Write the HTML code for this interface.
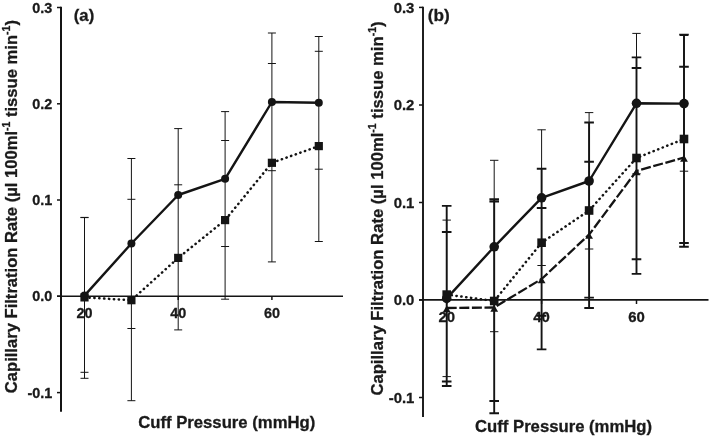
<!DOCTYPE html><html><head><meta charset="utf-8"><title>Capillary Filtration Rate</title>
<style>html,body{margin:0;padding:0;background:#fff}svg{display:block}text{font-family:"Liberation Sans",sans-serif;font-weight:bold;fill:#1a1a1a;stroke:#1a1a1a;stroke-width:0.3px}</style></head><body>
<svg width="709" height="439" viewBox="0 0 709 439">
<rect width="709" height="439" fill="#fff"/>
<path d="M61.0 6.8V411.8" stroke="#141414" stroke-width="2" fill="none"/>
<path d="M57 296.2H343" stroke="#141414" stroke-width="1.5" fill="none"/>
<path d="M57 7.5H61.0" stroke="#141414" stroke-width="1.5"/>
<text x="52.3" y="12.7" font-size="14.4" text-anchor="end">0.3</text>
<path d="M57 103.8H61.0" stroke="#141414" stroke-width="1.5"/>
<text x="52.3" y="109" font-size="14.4" text-anchor="end">0.2</text>
<path d="M57 200H61.0" stroke="#141414" stroke-width="1.5"/>
<text x="52.3" y="205.2" font-size="14.4" text-anchor="end">0.1</text>
<path d="M57 296.2H61.0" stroke="#141414" stroke-width="1.5"/>
<text x="52.3" y="301.4" font-size="14.4" text-anchor="end">0.0</text>
<path d="M57 392.6H61.0" stroke="#141414" stroke-width="1.5"/>
<text x="52.3" y="397.8" font-size="14.4" text-anchor="end">-0.1</text>
<path d="M84.5 296.2V300" stroke="#141414" stroke-width="1.5"/>
<text x="84.5" y="318.4" font-size="14.4" text-anchor="middle">20</text>
<path d="M178.2 296.2V300" stroke="#141414" stroke-width="1.5"/>
<text x="178.2" y="318.4" font-size="14.4" text-anchor="middle">40</text>
<path d="M271.9 296.2V300" stroke="#141414" stroke-width="1.5"/>
<text x="271.9" y="318.4" font-size="14.4" text-anchor="middle">60</text>
<text x="73.8" y="20.6" font-size="16.7">(a)</text>
<text x="138.2" y="427.6" font-size="16.7">Cuff Pressure (mmHg)</text>
<text transform="translate(17.0 393.2) rotate(-90)" font-size="16.6">Capillary Filtration Rate (µl 100ml<tspan font-size="10.5" dy="-7.4">-1</tspan><tspan dy="7.4"> tissue min</tspan><tspan font-size="10.5" dy="-7.4">-1</tspan><tspan dy="7.4">)</tspan></text>
<path d="M84.5 217.4V378.3M80.5 217.6H88.5M80.5 217.4H88.5M80.5 372.3H88.5M80.5 378.3H88.5" stroke="#141414" stroke-width="1.0" fill="none"/>
<path d="M131.4 158.5V400.7M127.4 158.5H135.4M127.4 199.3H135.4M127.4 328.5H135.4M127.4 400.7H135.4" stroke="#141414" stroke-width="1.0" fill="none"/>
<path d="M178.2 128.6V329.9M174.2 128.6H182.2M174.2 184.8H182.2M174.2 261.4H182.2M174.2 329.9H182.2" stroke="#141414" stroke-width="1.0" fill="none"/>
<path d="M225.1 111.6V299.2M221.1 111.6H229.1M221.1 140.5H229.1M221.1 246.5H229.1M221.1 299.2H229.1" stroke="#141414" stroke-width="1.0" fill="none"/>
<path d="M271.9 33V261.9M267.9 33H275.9M267.9 63.5H275.9M267.9 170.7H275.9M267.9 261.9H275.9" stroke="#141414" stroke-width="1.0" fill="none"/>
<path d="M318.8 36.5V241.5M314.8 36.5H322.8M314.8 51.3H322.8M314.8 169.2H322.8M314.8 241.5H322.8" stroke="#141414" stroke-width="1.0" fill="none"/>
<path d="M84.5 295.6 L131.4 243.5 L178.2 195 L225.1 178.8 L271.9 102 L318.8 102.7" stroke="#141414" stroke-width="2.4" fill="none" stroke-linejoin="round"/>
<path d="M84.5 297.4 L131.4 300.2 L178.2 257.9 L225.1 220.1 L271.9 162.8 L318.8 146.1" stroke="#141414" stroke-width="2.5" fill="none" stroke-linejoin="round" stroke-dasharray="0.3 4.6" stroke-linecap="round"/>
<circle cx="84.5" cy="295.6" r="4.0" fill="#141414"/>
<circle cx="131.4" cy="243.5" r="4.0" fill="#141414"/>
<circle cx="178.2" cy="195" r="4.0" fill="#141414"/>
<circle cx="225.1" cy="178.8" r="4.0" fill="#141414"/>
<circle cx="271.9" cy="102" r="4.0" fill="#141414"/>
<circle cx="318.8" cy="102.7" r="4.0" fill="#141414"/>
<rect x="80.4" y="293.3" width="8.2" height="8.2" fill="#141414"/>
<rect x="127.3" y="296.1" width="8.2" height="8.2" fill="#141414"/>
<rect x="174.1" y="253.8" width="8.2" height="8.2" fill="#141414"/>
<rect x="221" y="216" width="8.2" height="8.2" fill="#141414"/>
<rect x="267.8" y="158.7" width="8.2" height="8.2" fill="#141414"/>
<rect x="314.7" y="142" width="8.2" height="8.2" fill="#141414"/>
<path d="M423.0 6.7V416.9" stroke="#141414" stroke-width="1.9" fill="none"/>
<path d="M419 299.9H708.5" stroke="#141414" stroke-width="1.6" fill="none"/>
<path d="M419 7.4H423.0" stroke="#141414" stroke-width="1.5"/>
<text x="414.4" y="12.7" font-size="14.9" text-anchor="end">0.3</text>
<path d="M419 105H423.0" stroke="#141414" stroke-width="1.5"/>
<text x="414.4" y="110.3" font-size="14.9" text-anchor="end">0.2</text>
<path d="M419 202.5H423.0" stroke="#141414" stroke-width="1.5"/>
<text x="414.4" y="207.8" font-size="14.9" text-anchor="end">0.1</text>
<path d="M419 299.9H423.0" stroke="#141414" stroke-width="1.5"/>
<text x="414.4" y="305.2" font-size="14.9" text-anchor="end">0.0</text>
<path d="M419 397.5H423.0" stroke="#141414" stroke-width="1.5"/>
<text x="414.4" y="402.8" font-size="14.9" text-anchor="end">-0.1</text>
<path d="M446.7 299.9V304" stroke="#141414" stroke-width="1.5"/>
<text x="446.7" y="322.1" font-size="14.9" text-anchor="middle">20</text>
<path d="M541.6 299.9V304" stroke="#141414" stroke-width="1.5"/>
<text x="541.6" y="322.1" font-size="14.9" text-anchor="middle">40</text>
<path d="M636.5 299.9V304" stroke="#141414" stroke-width="1.5"/>
<text x="636.5" y="322.1" font-size="14.9" text-anchor="middle">60</text>
<text x="427.8" y="20.8" font-size="17.2">(b)</text>
<text x="475.0" y="432.4" font-size="16.7">Cuff Pressure (mmHg)</text>
<text transform="translate(383.0 395.6) rotate(-90)" font-size="16.65">Capillary Filtration Rate (µl 100ml<tspan font-size="10.5" dy="-7.4">-1</tspan><tspan dy="7.4"> tissue min</tspan><tspan font-size="10.5" dy="-7.4">-1</tspan><tspan dy="7.4">)</tspan></text>
<path d="M446.7 220.1V376.6M442.5 220.1H450.9M442.5 376.6H450.9" stroke="#141414" stroke-width="1.0" fill="none"/>
<path d="M446.7 205.9V386M441.9 205.9H451.5M441.9 232H451.5M441.9 381.5H451.5M441.9 386H451.5" stroke="#141414" stroke-width="1.9" fill="none"/>
<path d="M494.2 160.3V331.7M490 160.3H498.4M490 331.7H498.4" stroke="#141414" stroke-width="1.0" fill="none"/>
<path d="M494.2 199.3V413.2M489.4 201.5H499M489.4 199.3H499M489.4 401H499M489.4 413.2H499" stroke="#141414" stroke-width="1.9" fill="none"/>
<path d="M541.6 129.8V265.5M537.4 129.8H545.8M537.4 265.5H545.8" stroke="#141414" stroke-width="1.0" fill="none"/>
<path d="M541.6 168.7V349.4M536.8 168.7H546.4M536.8 208H546.4M536.8 315.7H546.4M536.8 349.4H546.4" stroke="#141414" stroke-width="1.9" fill="none"/>
<path d="M589.1 112.6V249M584.9 112.6H593.3M584.9 249H593.3" stroke="#141414" stroke-width="1.0" fill="none"/>
<path d="M589.1 122.5V308M584.3 122.5H593.9M584.3 161.8H593.9M584.3 297.6H593.9M584.3 308H593.9" stroke="#141414" stroke-width="1.9" fill="none"/>
<path d="M636.5 33.4V173.8M632.3 33.4H640.7M632.3 173.8H640.7" stroke="#141414" stroke-width="1.0" fill="none"/>
<path d="M636.5 57.4V273.9M631.7 57.4H641.3M631.7 68H641.3M631.7 259.2H641.3M631.7 273.9H641.3" stroke="#141414" stroke-width="1.9" fill="none"/>
<path d="M684 35.5V171.2M679.8 35.5H688.2M679.8 171.2H688.2" stroke="#141414" stroke-width="1.0" fill="none"/>
<path d="M684 34.6V246.8M679.2 34.6H688.8M679.2 66.8H688.8M679.2 243H688.8M679.2 246.8H688.8" stroke="#141414" stroke-width="1.9" fill="none"/>
<path d="M446.7 298.4 L494.2 246.8 L541.6 197.8 L589.1 181 L636.5 103.3 L684 103.6" stroke="#141414" stroke-width="2.4" fill="none" stroke-linejoin="round"/>
<path d="M446.7 294.6 L494.2 301 L541.6 242.7 L589.1 210.5 L636.5 158 L684 139" stroke="#141414" stroke-width="2.5" fill="none" stroke-linejoin="round" stroke-dasharray="0.3 4.6" stroke-linecap="round"/>
<path d="M446.7 308 L494.2 307.5 L541.6 279 L589.1 234.6 L636.5 171 L684 157.5" stroke="#141414" stroke-width="2.3" fill="none" stroke-linejoin="round" stroke-dasharray="10 2.6"/>
<circle cx="446.7" cy="298.4" r="4.8" fill="#141414"/>
<circle cx="494.2" cy="246.8" r="4.8" fill="#141414"/>
<circle cx="541.6" cy="197.8" r="4.8" fill="#141414"/>
<circle cx="589.1" cy="181" r="4.8" fill="#141414"/>
<circle cx="636.5" cy="103.3" r="4.8" fill="#141414"/>
<circle cx="684" cy="103.6" r="4.8" fill="#141414"/>
<rect x="442.4" y="290.3" width="8.6" height="8.6" fill="#141414"/>
<rect x="489.9" y="296.7" width="8.6" height="8.6" fill="#141414"/>
<rect x="537.3" y="238.4" width="8.6" height="8.6" fill="#141414"/>
<rect x="584.8" y="206.2" width="8.6" height="8.6" fill="#141414"/>
<rect x="632.2" y="153.7" width="8.6" height="8.6" fill="#141414"/>
<rect x="679.7" y="134.7" width="8.6" height="8.6" fill="#141414"/>
<path d="M446.7 305.6L450.6 312.2L442.8 312.2Z" fill="#141414"/>
<path d="M494.2 305.1L498.1 311.7L490.3 311.7Z" fill="#141414"/>
<path d="M541.6 276.6L545.5 283.2L537.7 283.2Z" fill="#141414"/>
<path d="M589.1 232.2L593 238.8L585.2 238.8Z" fill="#141414"/>
<path d="M636.5 168.6L640.4 175.2L632.6 175.2Z" fill="#141414"/>
<path d="M684 155.1L687.9 161.7L680.1 161.7Z" fill="#141414"/>
</svg></body></html>
